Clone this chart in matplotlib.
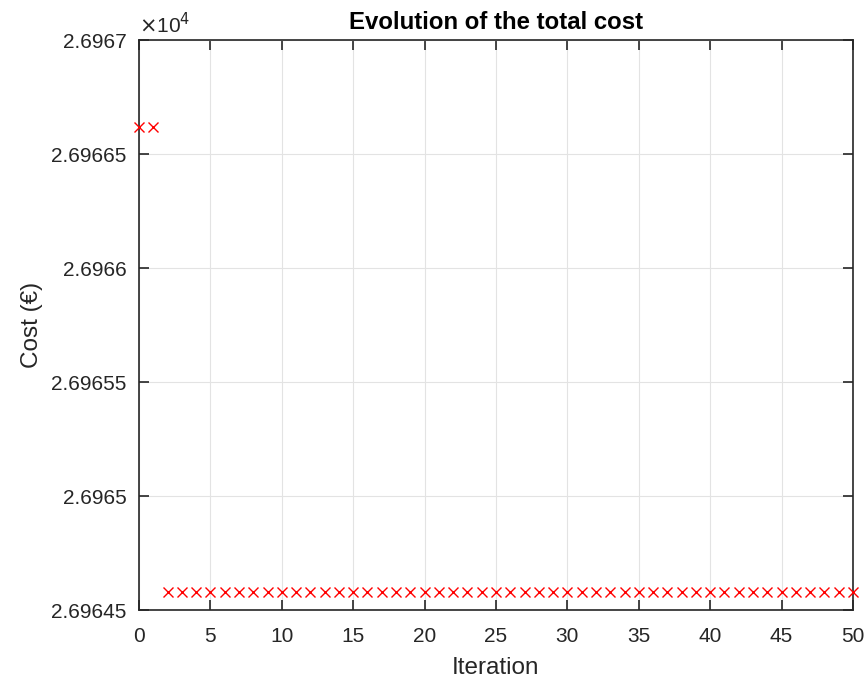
import matplotlib
matplotlib.use("Agg")
import matplotlib.pyplot as plt
from matplotlib.ticker import FixedLocator

# Data (Cost in €)
iterations = list(range(0, 51))
cost = [26966.62, 26966.62] + [26964.58] * 49

y_ticks = [26964.5, 26965.0, 26965.5, 26966.0, 26966.5, 26967.0]
y_tick_labels = ["2.69645", "2.6965", "2.69655", "2.6966", "2.69665", "2.6967"]
x_ticks = [0, 5, 10, 15, 20, 25, 30, 35, 40, 45, 50]

plt.rcParams['font.family'] = ['Liberation Sans', 'DejaVu Sans']
txt = '#262626'

fig = plt.figure(figsize=(8.68, 6.78), dpi=100)
ax = fig.add_axes([139/868, 1 - 610/678, (853-139)/868, (610-40)/678])

ax.plot(iterations, cost, linestyle='none', marker='x', color='red',
        markersize=7.5, markeredgewidth=1.0, clip_on=False, zorder=5)

ax.set_xlim(0, 50)
ax.set_ylim(26964.5, 26967.0)
ax.xaxis.set_major_locator(FixedLocator(x_ticks))
ax.yaxis.set_major_locator(FixedLocator(y_ticks))
ax.set_yticklabels(y_tick_labels)
ax.set_xticklabels([str(v) for v in x_ticks])

ax.grid(True, color='#e3e3e3', linewidth=0.8)
ax.set_axisbelow(True)
for s in ax.spines.values():
    s.set_color(txt)
    s.set_linewidth(1.2)
ax.tick_params(direction='in', length=7, width=1.2, colors=txt,
               labelsize=15, top=True, right=True)
ax.tick_params(axis='y', pad=9)
ax.tick_params(axis='x', pad=12)

ax.set_xlabel('Iteration', fontsize=17.5, color=txt, labelpad=8)
ax.set_ylabel('Cost (€)', fontsize=17.5, color=txt, labelpad=6)
ax.set_title('Evolution of the total cost', fontsize=17.3, fontweight='bold',
             color='black', pad=8)
ax.text(0.0, 1.005, r'$\times$10$^{4}$', transform=ax.transAxes,
        fontsize=15, color=txt, ha='left', va='bottom')

fig.savefig('out.png', dpi=100)
